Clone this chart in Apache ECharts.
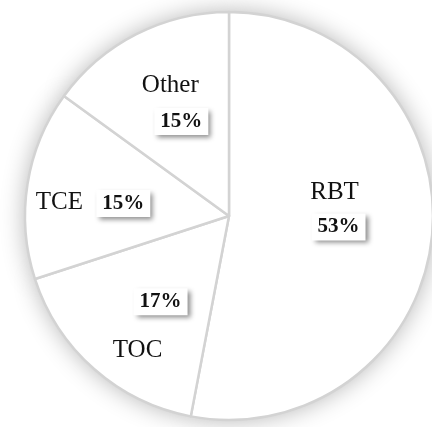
<!DOCTYPE html>
<html>
<head>
<meta charset="utf-8">
<script src="https://cdn.jsdelivr.net/npm/echarts@6/dist/echarts.min.js"></script>
<style>
  html, body { margin: 0; padding: 0; background: #fff; }
  #chart { width: 432px; height: 427px; }
</style>
</head>
<body>
<div id="chart"></div>
<script>
// slice names and shares (%), clockwise from 12 o'clock
const categories = ['RBT', 'TOC', 'TCE', 'Other']
const shares = [53, 17, 15, 15]

// label nudges from the default inside anchor (layout only)
const nameShift = [[1, -33], [-22, 56], [-66, 3], [-11, -37]]
const pctShift = [[5, 1], [1, 7], [-2, 4], [0, -1]]

const serif = '"Liberation Serif", "Times New Roman", serif'
const center = [229, 216]
const radius = 204
const pieData = categories.map((name, i) => ({ name: name, value: shares[i] }))

const chart = echarts.init(document.getElementById('chart'))
chart.setOption({
  animation: false,
  backgroundColor: '#fff',
  series: [
    {
      // soft drop shadow round the disc
      type: 'pie',
      silent: true,
      z: 1,
      center: center,
      radius: radius,
      startAngle: 90,
      clockwise: true,
      label: { show: false },
      labelLine: { show: false },
      itemStyle: {
        color: '#fff',
        borderWidth: 0,
        shadowBlur: 24,
        shadowColor: 'rgba(0, 0, 0, 0.3)'
      },
      data: pieData
    },
    {
      type: 'pie',
      silent: true,
      z: 2,
      center: center,
      radius: radius,
      startAngle: 90,
      clockwise: true,
      itemStyle: {
        color: '#fff',
        borderColor: '#d3d3d3',
        borderWidth: 2.5
      },
      label: {
        show: true,
        position: 'inside',
        formatter: '{b}',
        color: '#111',
        fontFamily: serif,
        fontSize: 25
      },
      labelLine: { show: false },
      labelLayout: (p) => ({ dx: nameShift[p.dataIndex][0], dy: nameShift[p.dataIndex][1] }),
      data: pieData
    },
    {
      type: 'pie',
      silent: true,
      z: 3,
      center: center,
      radius: radius,
      startAngle: 90,
      clockwise: true,
      itemStyle: { color: 'rgba(0,0,0,0)', borderWidth: 0 },
      label: {
        show: true,
        position: 'inside',
        formatter: (p) => Math.round(p.percent) + '%',
        color: '#111',
        fontFamily: serif,
        fontWeight: 'bold',
        fontSize: 21,
        backgroundColor: '#fff',
        padding: [4, 6, 2, 6],
        shadowColor: 'rgba(0, 0, 0, 0.45)',
        shadowBlur: 5,
        shadowOffsetX: 3,
        shadowOffsetY: 3
      },
      labelLine: { show: false },
      labelLayout: (p) => ({ dx: pctShift[p.dataIndex][0], dy: pctShift[p.dataIndex][1] }),
      data: pieData
    }
  ]
})
</script>
</body>
</html>
